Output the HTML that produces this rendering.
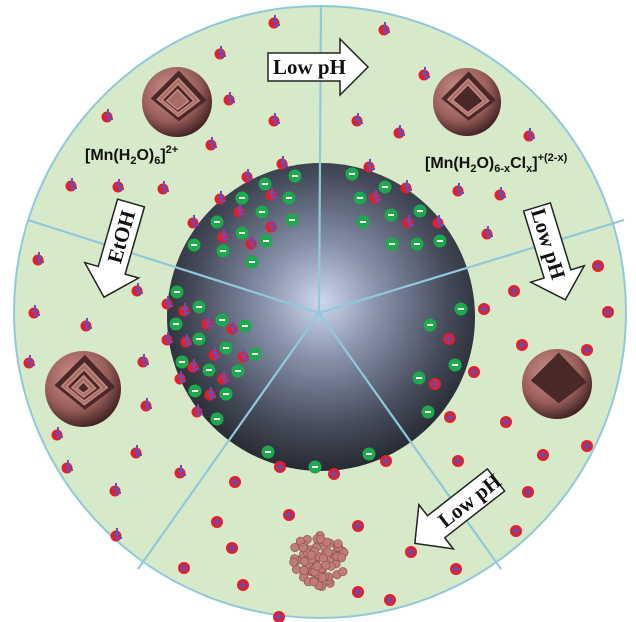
<!DOCTYPE html>
<html><head><meta charset="utf-8"><style>
html,body{margin:0;padding:0;background:#fff;}
svg{display:block;}
.lbl{font-family:"Liberation Sans",sans-serif;font-size:16px;font-weight:bold;fill:#111;}
.arr{font-family:"Liberation Serif",serif;font-weight:bold;font-size:21px;fill:#111;}
</style></head><body>
<svg id="s" width="636" height="622" viewBox="0 0 636 622" xmlns="http://www.w3.org/2000/svg">
<defs>
<radialGradient id="sph" cx="0.5" cy="0.45" r="0.55">
<stop offset="0" stop-color="#cdd8ee"/><stop offset="0.35" stop-color="#8590a8"/><stop offset="0.75" stop-color="#454b5a"/><stop offset="1" stop-color="#272a32"/>
</radialGradient>
<radialGradient id="shell" cx="0.4" cy="0.35" r="0.7">
<stop offset="0" stop-color="#cf948e"/><stop offset="0.6" stop-color="#9a5e5a"/><stop offset="1" stop-color="#351c1c"/>
</radialGradient>
</defs>
<circle cx="320" cy="312" r="306" fill="#d6e9c8" stroke="#8fc9dc" stroke-width="2"/>
<circle cx="321" cy="317" r="154" fill="url(#sph)"/>
<g stroke="#8fc9dc" stroke-width="2.2">
<line x1="319" y1="313" x2="321" y2="6"/>
<line x1="319" y1="313" x2="28" y2="220"/>
<line x1="319" y1="313" x2="624" y2="220"/>
<line x1="319" y1="313" x2="138" y2="569"/>
<line x1="319" y1="313" x2="501" y2="569"/>
</g>
<g id="ions"></g>
<g id="shells"></g>
<g transform="translate(268,67)">
<path d="M0,-14 L72,-14 L72,-28 L100,0 L72,28 L72,14 L0,14 Z" fill="#fff" stroke="#222" stroke-width="1.5"/>
<text class="arr" x="5" y="7">Low pH</text></g>
<g transform="translate(131,203) rotate(106)">
<path d="M0,-14 L70,-14 L70,-28 L98,0 L70,28 L70,14 L0,14 Z" fill="#fff" stroke="#222" stroke-width="1.5"/>
<text class="arr" transform="rotate(180 35 0)" x="8" y="7">EtOH</text></g>
<g transform="translate(537,207) rotate(73)">
<path d="M0,-14 L70,-14 L70,-28 L97,0 L70,28 L70,14 L0,14 Z" fill="#fff" stroke="#222" stroke-width="1.5"/>
<text class="arr" x="2" y="7">Low pH</text></g>
<g transform="translate(496,480) rotate(142)">
<path d="M0,-14 L76,-14 L76,-28 L103,0 L76,28 L76,14 L0,14 Z" fill="#fff" stroke="#222" stroke-width="1.5"/>
<text class="arr" transform="rotate(180 38 0)" x="6" y="7">Low pH</text></g>
<text class="lbl" x="85" y="160">[Mn(H<tspan font-size="11" dy="4">2</tspan><tspan dy="-4">O)</tspan><tspan font-size="11" dy="4">6</tspan><tspan dy="-4">]</tspan><tspan font-size="11" dy="-7">2+</tspan></text>
<text class="lbl" x="425" y="168">[Mn(H<tspan font-size="11" dy="4">2</tspan><tspan dy="-4">O)</tspan><tspan font-size="11" dy="4">6-x</tspan><tspan dy="-4">Cl</tspan><tspan font-size="11" dy="4">x</tspan><tspan dy="-4">]</tspan><tspan font-size="11" dy="-7">+(2-x)</tspan></text>
</svg>
<script>
var NS="http://www.w3.org/2000/svg",g=document.getElementById("ions"),sh=document.getElementById("shells");
function el(p,t,a){var e=document.createElementNS(NS,t);for(var k in a)e.setAttribute(k,a[k]);p.appendChild(e);return e;}
var mp=[[275,22],[221,53],[230,99],[108,116],[275,120],[212,144],[72,185],[119,186],[164,188],[283,163],[248,176],[221,198],[272,194],[240,211],[194,222],[272,226],[224,236],[252,243],
[385,29],[425,74],[358,120],[400,132],[530,135],[370,166],[459,190],[501,194],[488,233],[407,187],[376,197],[409,222],[439,222],
[39,259],[138,290],[35,312],[87,325],[30,362],[144,361],[147,405],[58,434],[137,452],[68,467],[181,472],[116,490],[117,535],
[168,303],[185,310],[208,323],[233,328],[168,339],[187,341],[215,354],[244,356],[194,366],[181,378],[224,378],[211,394],[198,411]];
var rb=[[598,266],[514,291],[484,309],[608,312],[449,339],[522,345],[587,350],[474,372],[435,384],[450,417],[506,422],[587,446],[543,455],[458,461],[528,492],[516,531],
[280,467],[334,474],[386,461],[235,482],[217,522],[289,515],[358,526],[232,548],[411,552],[184,568],[456,569],[243,585],[358,592],[390,600],[279,617]];
var gr=[[295,176],[265,184],[242,198],[289,198],[262,212],[292,220],[217,222],[242,233],[266,241],[194,245],[223,251],[252,262],
[352,174],[385,187],[360,198],[420,211],[391,215],[363,222],[392,244],[417,244],[440,241],
[177,292],[199,307],[222,320],[176,324],[245,326],[199,339],[226,348],[255,354],[182,362],[209,370],[238,371],[195,391],[226,394],[217,419],
[461,309],[430,325],[455,365],[419,378],[428,412],[268,452],[315,467],[369,454]];
gr.forEach(function(p){el(g,"circle",{cx:p[0],cy:p[1],r:6.5,fill:"#1caa4c"});el(g,"rect",{x:p[0]-3,y:p[1]-1,width:6,height:2,fill:"#fff"});});
mp.forEach(function(p){el(g,"circle",{cx:p[0]-1,cy:p[1]+1,r:5.5,fill:"#e41f2a"});
el(g,"path",{d:"M"+p[0]+","+(p[1]-7)+"v12M"+(p[0]-3)+","+(p[1]-1)+"h6M"+(p[0]-1)+","+(p[1]+3)+"h6",stroke:"#6a4db8","stroke-width":2,fill:"none"});});
rb.forEach(function(p){el(g,"circle",{cx:p[0],cy:p[1],r:6,fill:"#e41f2a"});
el(g,"path",{d:"M"+(p[0]-4)+","+p[1]+"h8M"+p[0]+","+(p[1]-4)+"v8",stroke:"#5a4fc0","stroke-width":1.8});});
function shell(cx,cy,r,n){el(sh,"circle",{cx:cx,cy:cy,r:r,fill:"url(#shell)"});
el(sh,"path",{d:"M"+(cx-r*0.75)+","+(cy-r*0.1)+"L"+(cx+r*0.05)+","+(cy-r*0.9)+"L"+(cx+r*0.85)+","+(cy-r*0.05)+"L"+(cx+r*0.05)+","+(cy+r*0.55)+"Z",fill:"#4a2827"});
for(var i=0;i<n;i++){var s=r*(0.75-i*0.18);el(sh,"path",{d:"M"+(cx-s*0.75)+","+(cy-s*0.1)+"L"+(cx+s*0.05)+","+(cy-s*0.9)+"L"+(cx+s*0.85)+","+(cy-s*0.05)+"L"+(cx+s*0.05)+","+(cy+s*0.55)+"Z",fill:i%2?"#4a2827":"#a86c67",stroke:"#c48983","stroke-width":1.5});}}
shell(177,102,35,3);shell(467,102,34,2);shell(83,389,38,4);shell(557,384,35,0);
var seed=3;function rnd(){seed=(seed*9301+49297)%233280;return seed/233280;}
for(var i=0;i<70;i++){var a=rnd()*6.283,d=Math.sqrt(rnd())*28;el(sh,"circle",{cx:318+Math.cos(a)*d,cy:561+Math.sin(a)*d*0.95,r:4.2,fill:"#c07c78",stroke:"#8a4c4a","stroke-width":0.6});}
</script>
</body></html>
